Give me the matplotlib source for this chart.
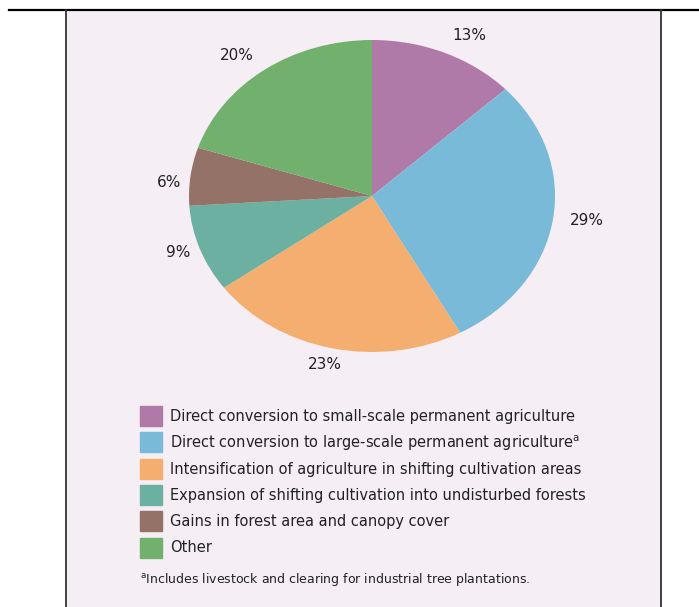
import numpy as np
import matplotlib.pyplot as plt
from matplotlib.lines import Line2D

# causes of forest loss, share in percent
categories = [
    'Direct conversion to small-scale permanent agriculture',
    'Direct conversion to large-scale permanent agriculture$^{\\mathregular{a}}$',
    'Intensification of agriculture in shifting cultivation areas',
    'Expansion of shifting cultivation into undisturbed forests',
    'Gains in forest area and canopy cover',
    'Other',
]
shares = [13, 29, 23, 9, 6, 20]
colors = ['#B07AA8', '#78BAD8', '#F4AE6F', '#6CB0A1', '#957267', '#72B06E']
# percent label placement: distance (fraction of radius) and angle nudge (deg)
label_r = [1.16, 1.185, 1.11, 1.12, 1.11, 1.165]
label_nudge = [-4, 1.5, -0.7, -1.1, 2.6, 3.4]
footnote = '$^{\\mathregular{a}}$Includes livestock and clearing for industrial tree plantations.'

W, H = 699, 607
bg = '#F5EEF5'
ink = '#222222'
fig = plt.figure(figsize=(W / 100, H / 100), dpi=100)
fig.patch.set_facecolor('white')

# panel background and rules
fig.patches.append(plt.Rectangle((66 / W, 0), (661 - 66) / W, 1 - 10 / H,
                                 transform=fig.transFigure, color=bg, zorder=-5))
fig.lines.append(Line2D([9 / W, 1], [1 - 9.5 / H] * 2, transform=fig.transFigure,
                        color='black', lw=1.6))
for xv in (65.5, 661):
    fig.lines.append(Line2D([xv / W] * 2, [0, 1 - 9.5 / H], transform=fig.transFigure,
                            color='#333333', lw=1.3))

# pie as an ellipse: centre (372,196), radii 183 x 156 px
cx, cy, rx, ry = 372, 196, 183, 156
xl, yl = 1.3, 1.2
ax = fig.add_axes([(cx - xl * rx) / W, 1 - (cy + yl * ry) / H,
                   2 * xl * rx / W, 2 * yl * ry / H])
ax.set_zorder(2)
ax.patch.set_alpha(0)
wedges, _ = ax.pie(shares, colors=colors, startangle=90, counterclock=False,
                   wedgeprops=dict(linewidth=0))
ax.set_aspect('auto')
ax.set_xlim(-xl, xl)
ax.set_ylim(-yl, yl)
ax.axis('off')

cum = np.cumsum([0] + shares[:-1])
for v, c0, r, dn in zip(shares, cum, label_r, label_nudge):
    ang = np.deg2rad(90 - (c0 + v / 2) * 3.6 + dn)
    ax.text(r * np.cos(ang), r * np.sin(ang), f'{v}%', ha='center', va='center',
            fontsize=11, color=ink)

# legend drawn by hand: 22x20 px swatches, 26.3 px rows
lx, ly, step = 140, 406, 26.3
for i, (lab, c) in enumerate(zip(categories, colors)):
    top = ly + i * step
    fig.patches.append(plt.Rectangle((lx / W, 1 - (top + 20) / H), 22 / W, 20 / H,
                                     transform=fig.transFigure, color=c, zorder=3))
    fig.text(170 / W, 1 - (top + 10.5) / H, lab, fontsize=10.5, va='center',
             ha='left', color=ink)

fig.text(140 / W, 1 - 580 / H, footnote, fontsize=9, va='center', ha='left',
         color=ink)

fig.savefig('out.png', dpi=100, facecolor='white')
